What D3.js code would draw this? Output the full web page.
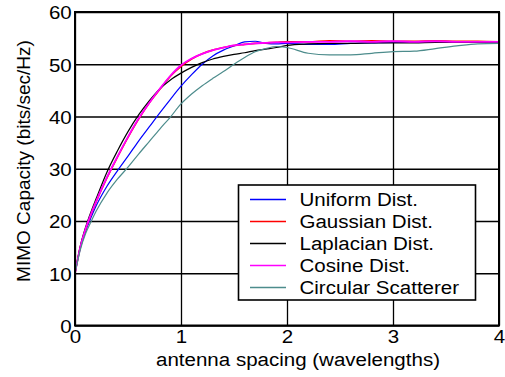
<!DOCTYPE html>
<html>
<head>
<meta charset="utf-8">
<script src="https://cdn.jsdelivr.net/npm/d3@7"></script>
<style>
  body { margin: 0; background: #fff; }
  svg { display: block; font-family: "Liberation Sans", Arial, sans-serif; }
</style>
</head>
<body>
<div id="chart"></div>
<script>
// antenna spacing (wavelengths)
var xs = [0, 0.05, 0.1, 0.15, 0.2, 0.3, 0.4, 0.5, 0.6, 0.7, 0.8, 0.9, 1.0, 1.1, 1.2, 1.3, 1.4, 1.5, 1.6, 1.7, 1.8, 1.9, 2.0, 2.2, 2.4, 2.6, 2.8, 3.0, 3.2, 3.4, 3.6, 3.8, 4.0];

var uniform   = [10, 14.8, 18.0, 20.6, 22.9, 26.6, 29.6, 32.4, 35.3, 38.0, 40.7, 43.3, 45.8, 48.0, 50.0, 51.6, 52.7, 53.5, 54.3, 54.4, 54.0, 53.9, 54.0, 53.8, 53.8, 54.0, 54.1, 54.2, 54.2, 54.3, 54.2, 54.2, 54.1];
var gaussian  = [10, 15.0, 18.4, 21.2, 23.7, 28.2, 32.2, 36.0, 39.5, 42.6, 45.2, 47.7, 49.6, 51.0, 52.0, 52.7, 53.2, 53.6, 53.8, 54.0, 54.1, 54.2, 54.3, 54.3, 54.5, 54.4, 54.5, 54.4, 54.4, 54.5, 54.4, 54.4, 54.3];
var laplacian = [10, 15.2, 18.8, 21.7, 24.3, 29.3, 33.4, 37.1, 40.3, 43.0, 45.3, 47.0, 48.3, 49.4, 50.3, 51.0, 51.5, 51.9, 52.2, 52.6, 52.9, 53.2, 53.6, 53.9, 54.0, 54.0, 54.1, 54.1, 54.1, 54.2, 54.2, 54.2, 54.2];
var cosine    = [10, 15.0, 18.5, 21.3, 23.8, 28.3, 32.3, 36.1, 39.6, 42.6, 45.3, 47.8, 49.8, 51.1, 52.0, 52.7, 53.2, 53.6, 53.8, 54.0, 54.1, 54.2, 54.2, 54.3, 54.3, 54.4, 54.3, 54.4, 54.3, 54.4, 54.3, 54.3, 54.3];
var circular  = [10, 14.5, 17.6, 19.8, 21.9, 25.3, 28.0, 30.3, 32.8, 35.2, 37.6, 39.9, 42.4, 44.3, 45.9, 47.3, 48.6, 50.0, 51.3, 52.4, 53.0, 53.4, 53.2, 52.1, 51.8, 51.8, 52.1, 52.4, 52.5, 53.0, 53.5, 53.9, 54.0];

var names   = ["Uniform Dist.", "Gaussian Dist.", "Laplacian Dist.", "Cosine Dist.", "Circular Scatterer"];
var colours = ["#0000ff", "#ff0000", "#000000", "#ff00ff", "#4d8c8c"];
var widths  = [1.2, 1.6, 1.2, 1.8, 1.2];
var series  = [uniform, gaussian, laplacian, cosine, circular];

var x_ticks = [0, 1, 2, 3, 4];
var y_ticks = [0, 10, 20, 30, 40, 50, 60];

var width = 505, height = 377;
var margin = {top: 12, right: 6, bottom: 51, left: 75};
var inner_w = 499 - margin.left;
var inner_h = 325.5 - margin.top;
var sx = 1.08; // horizontal stretch of the reference text

var svg = d3.select("#chart").append("svg")
    .attr("width", width)
    .attr("height", height);

var g = svg.append("g")
    .attr("transform", "translate(" + margin.left + "," + margin.top + ")");

var x_scale = d3.scaleLinear().domain([0, 4]).range([0, inner_w]);
var y_scale = d3.scaleLinear().domain([0, 60]).range([inner_h, 0]);

//Grid + tick labels via axes
var y_axis = d3.axisLeft(y_scale)
    .tickValues(y_ticks)
    .tickFormat(d3.format("d"))
    .tickSizeInner(-inner_w)
    .tickSizeOuter(0)
    .tickPadding(3);

var gy = g.append("g").call(y_axis);
gy.select(".domain").remove();
gy.selectAll(".tick line").attr("stroke", "#000").attr("stroke-width", 1.3);
gy.selectAll(".tick text")
    .attr("font-size", 19)
    .attr("fill", "#000")
    .attr("font-family", "Liberation Sans, Arial, sans-serif")
    .attr("dy", "0.36em")
    .attr("transform", "scale(" + sx + ",1)");

var x_axis = d3.axisBottom(x_scale)
    .tickValues(x_ticks)
    .tickFormat(d3.format("d"))
    .tickSizeInner(-inner_h)
    .tickSizeOuter(0)
    .tickPadding(6);

var gx = g.append("g")
    .attr("transform", "translate(0," + inner_h + ")")
    .call(x_axis);
gx.select(".domain").remove();
gx.selectAll(".tick line").attr("stroke", "#000").attr("stroke-width", 1.3);
gx.selectAll(".tick text")
    .attr("font-size", 19)
    .attr("fill", "#000")
    .attr("font-family", "Liberation Sans, Arial, sans-serif")
    .attr("dy", "0.62em")
    .attr("transform", "scale(" + sx + ",1)");

//Lines
var line = d3.line()
    .x(function(d) { return x_scale(d[0]); })
    .y(function(d) { return y_scale(d[1]); })
    .curve(d3.curveMonotoneX);

for (var j = 0; j < series.length; j++) {
    var pts = xs.map(function(x, i) { return [x, series[j][i]]; });
    g.append("path")
        .attr("d", line(pts))
        .attr("fill", "none")
        .attr("stroke", colours[j])
        .attr("stroke-width", widths[j]);
}

//Plot border
g.append("rect")
    .attr("x", 0).attr("y", 0)
    .attr("width", inner_w).attr("height", inner_h)
    .attr("fill", "none")
    .attr("stroke", "#000")
    .attr("stroke-width", 2);

//Legend
var legend = svg.append("g").attr("transform", "translate(238.5,185)");
legend.append("rect")
    .attr("width", 237).attr("height", 115)
    .attr("fill", "#fff")
    .attr("stroke", "#000")
    .attr("stroke-width", 1.6);

var rows = legend.selectAll("g.row").data(names).enter().append("g")
    .attr("class", "row")
    .attr("transform", function(d, i) { return "translate(0," + (14.5 + i * 22) + ")"; });

rows.append("line")
    .attr("x1", 11.5).attr("x2", 47.5)
    .attr("stroke", function(d, i) { return colours[i]; })
    .attr("stroke-width", 1.3);

rows.append("text")
    .attr("transform", "translate(61,0) scale(" + sx + ",1)")
    .attr("dy", "0.36em")
    .attr("font-size", 19)
    .text(function(d) { return d; });

//Axis titles
svg.append("text")
    .attr("transform", "translate(298,366) scale(" + sx + ",1)")
    .attr("text-anchor", "middle")
    .attr("font-size", 19)
    .text("antenna spacing (wavelengths)");

svg.append("text")
    .attr("transform", "translate(30,161) rotate(-90)")
    .attr("text-anchor", "middle")
    .attr("font-size", 19)
    .text("MIMO Capacity (bits/sec/Hz)");
</script>
</body>
</html>
